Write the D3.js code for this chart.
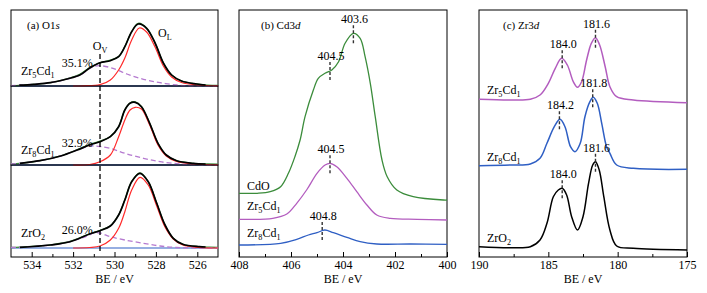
<!DOCTYPE html>
<html>
<head>
<meta charset="utf-8">
<script src="https://cdn.jsdelivr.net/npm/d3@7"></script>
<style>
  body { margin: 0; background: #fff; }
  svg text { font-family: 'Liberation Serif', 'Times New Roman', serif; fill: #000; }
</style>
</head>
<body>
<div id="app"></div>
<script>
'use strict'

// ---- data (binding energy in eV, intensity in a.u.) ----
// (a) O1s, one block per sample: raw, fit envelope, O_L, O_V, background
const o1sRawZr5 = [[535, 0.3], [534.6, 0.6], [534.2, 1.2], [533.6, 2.2], [533.1, 3.3], [532.3, 7.2], [531.7, 11.5], [531.2, 18.5], [530.9, 21.5], [530.6, 23.8], [530.2, 25.8], [529.8, 29.5], [529.5, 39.5], [529.17, 54.5], [528.85, 62.7], [528.45, 58], [528.04, 43], [527.64, 23], [527.24, 11], [526.76, 5], [526.03, 2], [525.5, 0.8], [525, 0.5]]
const o1sFitZr5 = [[534.6, 0.8], [533.9, 1.7], [533.1, 3.3], [532.3, 7], [531.67, 11], [531.2, 18], [530.7, 23.3], [530.2, 25.3], [529.8, 29.3], [529.5, 39.3], [529.17, 54.3], [528.85, 62], [528.45, 57.7], [528.04, 43], [527.64, 23], [527.24, 11], [526.76, 5], [526.03, 2], [525.6, 1]]
const o1sLatZr5 = [[532, 0], [531.5, 0.2], [530.7, 1.3], [530.2, 6], [529.8, 16], [529.5, 28], [529.17, 46], [528.8, 58], [528.45, 54], [528.04, 39], [527.64, 20], [527.24, 9], [526.76, 3.5], [526, 1], [525, 0.2]]
const o1sVacZr5 = [[535, 0.3], [533.9, 1.7], [533.1, 3.3], [532.3, 7], [531.67, 11], [531.2, 17.5], [531, 19.5], [530.7, 20.3], [530.07, 17.7], [529.4, 12], [528.6, 6.7], [527.8, 3.3], [527, 1], [526.5, 0.3], [525, 0]]

const o1sRawZr8 = [[535, 1], [534.57, 1.7], [534, 3], [533.6, 4.4], [532.6, 9.2], [531.8, 15.3], [531.2, 20.5], [530.7, 23.8], [530.2, 28.6], [529.8, 38.5], [529.5, 55.2], [529.25, 62], [529, 63.2], [528.7, 58.6], [528.3, 41.7], [527.9, 21.7], [527.5, 10], [527, 4.3], [526.2, 1.7], [525.5, 1], [525, 0.8]]
const o1sFitZr8 = [[534.57, 1.7], [533.6, 4.3], [532.6, 9], [531.8, 15], [531.2, 20], [530.7, 23.3], [530.2, 28.3], [529.8, 38.3], [529.5, 55], [529.25, 61.7], [529, 62.7], [528.7, 58.3], [528.3, 41.7], [527.9, 21.7], [527.5, 10], [527, 4.3], [526.2, 1.7], [525.6, 1]]
const o1sLatZr8 = [[532, 0], [531.2, 0.5], [530.7, 3.3], [530.2, 10], [529.8, 28.3], [529.5, 45], [529.25, 55], [529, 57.7], [528.7, 56], [528.3, 40], [527.9, 20], [527.5, 9], [527, 3.5], [526.2, 1], [525, 0.2]]
const o1sVacZr8 = [[535, 1], [534.57, 1.7], [533.6, 4.3], [532.6, 9], [531.8, 15], [531.2, 19], [531, 19], [530.7, 18.5], [530.2, 16.7], [529.5, 11.7], [528.6, 6.7], [527.8, 3.3], [527, 1.3], [526.3, 0.5], [525, 0]]

const o1sRawZrO2 = [[535, 0.5], [534.57, 0.8], [533.8, 1.8], [533.1, 3.1], [532.15, 6.5], [531.2, 14.2], [530.7, 17.6], [530.2, 22.2], [529.8, 33.2], [529.5, 48.2], [529.17, 66.6], [528.77, 75.2], [528.37, 66.5], [527.96, 44.7], [527.56, 23], [527.16, 9.7], [526.7, 3.7], [525.9, 1.3], [525.4, 0.8], [525, 0.6]]
const o1sFitZrO2 = [[534.57, 0.7], [533.1, 3], [532.15, 6.3], [531.2, 14], [530.7, 17.3], [530.2, 22], [529.8, 33], [529.5, 48], [529.17, 66.3], [528.77, 74.7], [528.37, 66.3], [527.96, 44.7], [527.56, 23], [527.16, 9.7], [526.7, 3.7], [525.9, 1.3], [525.6, 1]]
const o1sLatZrO2 = [[532, 0], [531.2, 0.5], [530.7, 2], [530.2, 8], [529.8, 19.7], [529.5, 36.3], [529.17, 58], [528.77, 70.7], [528.37, 63], [527.96, 42], [527.56, 21], [527.16, 9], [526.7, 3], [525.9, 0.5], [525, 0]]
const o1sVacZrO2 = [[535, 0.5], [534.57, 0.7], [533.1, 3], [532.15, 6.3], [531.2, 13], [531, 15.3], [530.7, 15], [530.2, 11.3], [529.5, 8], [528.6, 4.7], [527.8, 2], [527, 0.5], [526, 0], [525, 0]]

const o1sBackground = [[535, 0], [525, 0]]
const o1sSamples = ['Zr_5Cd_1', 'Zr_8Cd_1', 'ZrO_2']
const o1sVacShare = ['35.1%', '32.9%', '26.0%']
const o1sVacEnergy = 530.7

// (b) Cd3d
const cdCdO = [[408, 63.7], [407.3, 63.7], [406.8, 65.3], [406.4, 70.3], [406.1, 83.7], [405.85, 100.3], [405.65, 117], [405.46, 140.3], [405.14, 167], [404.95, 178.7], [404.69, 183.7], [404.43, 187], [404.17, 195.3], [403.92, 213.7], [403.6, 223.7], [403.34, 218.7], [403.15, 200.3], [402.95, 173.7], [402.76, 140.3], [402.5, 97], [402.3, 80.3], [401.93, 67], [401.3, 60.3], [400.13, 57], [400, 57]]
const cdZr5 = [[408, 37.7], [406.7, 38.7], [406.16, 43], [405.78, 53.7], [405.4, 67], [405, 83.7], [404.69, 92], [404.5, 93.7], [404.24, 90.3], [403.85, 78.7], [403.47, 65.3], [403.08, 52], [402.7, 42], [402.18, 38.7], [401.15, 37.7], [400, 37]]
const cdZr8 = [[408, 12], [406.4, 13.7], [405.78, 17.7], [405.33, 22], [405, 24.3], [404.7, 27], [404.37, 24.3], [403.85, 19.7], [403.34, 15.3], [402.7, 13], [401.4, 13], [400, 12.7]]
const cdSamples = ['CdO', 'Zr_5Cd_1', 'Zr_8Cd_1']
const cdPeaks = [[403.6, 223.7], [404.5, 187], [404.5, 93.7], [404.8, 27]]

// (c) Zr3d
const zrZr5 = [[190, 157.7], [187.76, 157], [186.3, 157.7], [185.6, 162], [185, 173.7], [184.5, 188.7], [184.04, 198.7], [183.63, 192], [183.2, 175.3], [182.9, 169.7], [182.6, 175.3], [182.24, 197], [181.9, 213.7], [181.6, 219.3], [181.3, 212], [180.9, 190.3], [180.56, 170.3], [180.07, 160.3], [178.87, 157], [175, 154.3]]
const zrZr8 = [[190, 91.3], [187.76, 92], [186.3, 93], [185.6, 98.7], [185.1, 113.7], [184.57, 130.3], [184.16, 137.7], [183.8, 130.3], [183.4, 110.3], [183.08, 105.3], [182.7, 113.7], [182.36, 140.3], [182, 155.3], [181.76, 159.7], [181.47, 153.7], [181.15, 133.7], [180.8, 110.3], [180.56, 103.7], [180.07, 92], [178.87, 88.7], [175, 87.7]]
const zrZrO2 = [[190, 10.3], [187.76, 9.3], [186.3, 10.3], [185.6, 17], [185.1, 33.7], [184.64, 60.3], [184.28, 67], [184, 68.7], [183.68, 62], [183.32, 40.3], [182.9, 27], [182.5, 40.3], [182.1, 73.7], [181.8, 92], [181.6, 95.3], [181.33, 87], [181, 60.3], [180.56, 27], [180.07, 11], [178.87, 8.7], [175, 7]]
const zrSamples = ['Zr_5Cd_1', 'Zr_8Cd_1', 'ZrO_2']
const zrPeaks = [[181.6, 219.3], [184.0, 198.7], [181.8, 159.7], [184.2, 137.7], [181.6, 95.3], [184.0, 68.7]]

const ticksA = [534, 532, 530, 528, 526]
const minorA = [533, 531, 529, 527]
const ticksB = [408, 406, 404, 402, 400]
const minorB = [407, 405, 403, 401]
const ticksC = [190, 185, 180, 175]
const minorC = [187.5, 182.5, 177.5]

// ---- layout ----
const W = 707
const H = 293
const plotTop = 10
const plotBottom = 257
const serif = "'Liberation Serif', 'Times New Roman', serif"
const green = '#3b8c3b'
const purple = '#b35dbf'
const blue = '#2f5fc4'

const svg = d3.select('#app').append('svg')
  .attr('width', W)
  .attr('height', H)
  .style('font-family', serif)

const xA = d3.scaleLinear().domain([535, 525]).range([11, 218])
const xB = d3.scaleLinear().domain([408, 400]).range([239, 447])
const xC = d3.scaleLinear().domain([190, 175]).range([479, 687])

// text with _x subscripts and *x italics
function rich(g, x, y, str, size, anchor) {
  const t = g.append('text')
    .attr('x', x).attr('y', y)
    .style('font-family', serif)
    .style('font-size', size + 'px')
    .attr('text-anchor', anchor || 'start')
  let shift = 0
  str.split(/([_*].)/).filter(s => s !== '').forEach(b => {
    const s = t.append('tspan')
    if (b[0] === '_') {
      s.text(b[1]).attr('dy', 3 - shift).style('font-size', (size * 0.68) + 'px')
      shift = 3
    } else {
      s.text(b[0] === '*' ? b[1] : b)
      if (b[0] === '*') s.style('font-style', 'italic')
      if (shift) s.attr('dy', -shift)
      shift = 0
    }
  })
  return t
}

function line(x, y) {
  return d3.line()
    .x(d => x(d[0]))
    .y(d => y(d[1]))
    .curve(d3.curveCatmullRom.alpha(0.5))
}

function drawAxis(x, major, minor, fmt) {
  const g = svg.append('g').attr('transform', `translate(0,${plotBottom})`)
  g.call(d3.axisBottom(x).tickValues(major).tickSize(-5).tickSizeOuter(0).tickPadding(3.5).tickFormat(fmt))
  g.append('g').call(d3.axisBottom(x).tickValues(minor).tickSize(-3).tickSizeOuter(0).tickFormat(''))
  g.selectAll('.domain').remove()
  g.selectAll('line').attr('stroke', '#000')
  g.selectAll('text').style('font-size', '12px').style('font-family', serif).attr('fill', '#000')
  svg.append('text')
    .attr('x', (x.range()[0] + x.range()[1]) / 2)
    .attr('y', 282.5)
    .attr('text-anchor', 'middle')
    .style('font-family', serif)
    .style('font-size', '12px')
    .text('BE / eV')
}

function dashedMarks(g, x, y, peaks) {
  peaks.forEach(p => {
    const py = y(p[1])
    g.append('line')
      .attr('x1', x(p[0])).attr('x2', x(p[0]))
      .attr('y1', py - 8).attr('y2', py + 12)
      .attr('stroke', '#333').attr('stroke-width', 1.4)
      .attr('stroke-dasharray', '3,2')
    g.append('text')
      .attr('x', x(p[0]) + 1).attr('y', py - 10)
      .attr('text-anchor', 'middle')
      .style('font-family', serif)
      .style('font-size', '12px')
      .text(d3.format('.1f')(p[0]))
  })
}

// ---- (a) O1s ----
const blocksA = [
  { raw: o1sRawZr5, fit: o1sFitZr5, lat: o1sLatZr5, vac: o1sVacZr5, y: d3.scaleLinear().domain([0, 76]).range([86, 10]) },
  { raw: o1sRawZr8, fit: o1sFitZr8, lat: o1sLatZr8, vac: o1sVacZr8, y: d3.scaleLinear().domain([0, 79]).range([165, 86]) },
  { raw: o1sRawZrO2, fit: o1sFitZrO2, lat: o1sLatZrO2, vac: o1sVacZrO2, y: d3.scaleLinear().domain([-9, 83]).range([257, 165]) }
]

const gA = svg.append('g')
blocksA.forEach((b, i) => {
  const r = b.y.range()
  gA.append('rect')
    .attr('x', xA.range()[0]).attr('y', r[1])
    .attr('width', xA.range()[1] - xA.range()[0]).attr('height', r[0] - r[1])
    .attr('fill', 'none').attr('stroke', '#000').attr('stroke-width', 1)
  const ln = line(xA, b.y)
  gA.append('path').attr('d', ln(o1sBackground)).attr('fill', 'none').attr('stroke', blue).attr('stroke-width', 1.2)
  gA.append('path').attr('d', ln(b.raw)).attr('fill', 'none').attr('stroke', green).attr('stroke-width', 1.3)
  gA.append('path').attr('d', ln(b.vac)).attr('fill', 'none').attr('stroke', '#b57ad0').attr('stroke-width', 1.3).attr('stroke-dasharray', '5,3')
  gA.append('path').attr('d', ln(b.lat)).attr('fill', 'none').attr('stroke', '#ff2a2a').attr('stroke-width', 1.2)
  gA.append('path').attr('d', ln(b.fit)).attr('fill', 'none').attr('stroke', '#000').attr('stroke-width', 1.7)

  const vacMax = d3.max(b.vac, d => d[1])
  gA.append('text')
    .attr('x', xA(531.05)).attr('y', b.y(vacMax) + 1)
    .attr('text-anchor', 'end')
    .style('font-family', serif)
    .style('font-size', '12px')
    .text(o1sVacShare[i])
  rich(gA, 21, b.y(0) - 11, o1sSamples[i], 12)
})

gA.append('line')
  .attr('x1', xA(o1sVacEnergy)).attr('x2', xA(o1sVacEnergy))
  .attr('y1', 54).attr('y2', 253)
  .attr('stroke', '#000').attr('stroke-width', 1.3)
  .attr('stroke-dasharray', '5,3')

rich(gA, 27, 29, '(a) O1*s', 11)
rich(gA, xA(o1sVacEnergy), 50, 'O_V', 12, 'middle')
rich(gA, xA(527.9), 37, 'O_L', 12)
drawAxis(xA, ticksA, minorA, d3.format('d'))

// ---- (b) Cd3d ----
const yB = d3.scaleLinear().domain([0, 247]).range([plotBottom, plotTop])
const gB = svg.append('g')
gB.append('rect')
  .attr('x', 239).attr('y', plotTop).attr('width', 208).attr('height', plotBottom - plotTop)
  .attr('fill', 'none').attr('stroke', '#000')
const lnB = line(xB, yB)
const seriesB = [[cdCdO, green, -3.5], [cdZr5, purple, -9], [cdZr8, blue, -8.5]]
seriesB.forEach((s, i) => {
  gB.append('path').attr('d', lnB(s[0])).attr('fill', 'none').attr('stroke', s[1]).attr('stroke-width', 1.3)
  rich(gB, 247, yB(s[0][0][1]) + s[2], cdSamples[i], 12)
})
dashedMarks(gB, xB, yB, cdPeaks)
rich(gB, 261, 29, '(b) Cd3*d', 11)
drawAxis(xB, ticksB, minorB, d3.format('d'))

// ---- (c) Zr3d ----
const yC = d3.scaleLinear().domain([0, 247]).range([plotBottom, plotTop])
const gC = svg.append('g')
gC.append('rect')
  .attr('x', 479).attr('y', plotTop).attr('width', 208).attr('height', plotBottom - plotTop)
  .attr('fill', 'none').attr('stroke', '#000')
const lnC = line(xC, yC)
const seriesC = [[zrZr5, purple], [zrZr8, blue], [zrZrO2, '#000']]
seriesC.forEach((s, i) => {
  gC.append('path').attr('d', lnC(s[0])).attr('fill', 'none').attr('stroke', s[1]).attr('stroke-width', 1.5)
  rich(gC, 487, yC(s[0][0][1]) - 5, zrSamples[i], 12)
})
dashedMarks(gC, xC, yC, zrPeaks)
rich(gC, 503, 29, '(c) Zr3*d', 11)
drawAxis(xC, ticksC, minorC, d3.format('d'))
</script>
</body>
</html>
